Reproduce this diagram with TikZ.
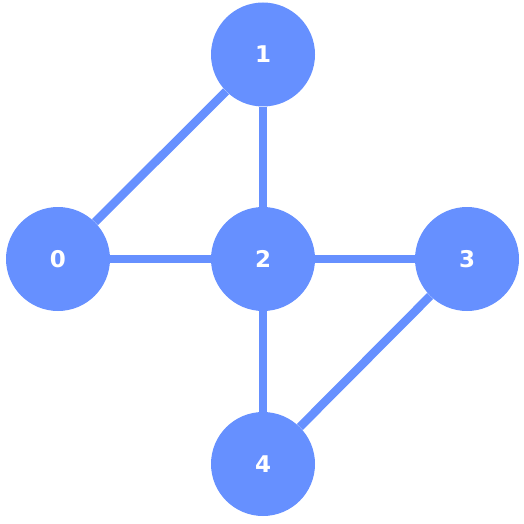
\documentclass[tikz,border=0pt]{standalone}
\usepackage{fontspec}
\setmainfont{DejaVu Sans}
\definecolor{nodeblue}{HTML}{6690FF}
\begin{document}
\begin{tikzpicture}[x=1pt,y=-1pt,
  vertex/.style={circle,fill=nodeblue,draw=none,minimum size=104pt,inner sep=0pt,text=white,font=\fontsize{23}{23}\selectfont\bfseries},
  edge/.style={draw=nodeblue,line width=8.5pt}]
\useasboundingbox (0,0) rectangle (524,524);
\node[vertex] (n1) at (263,54.5) {1};
\node[vertex] (n0) at (58,259) {0};
\node[vertex] (n2) at (263,259) {2};
\node[vertex] (n3) at (467,259) {3};
\node[vertex] (n4) at (263,464) {4};
\path[edge] (n0) -- (n1);
\path[edge] (n0) -- (n2);
\path[edge] (n1) -- (n2);
\path[edge] (n2) -- (n3);
\path[edge] (n2) -- (n4);
\path[edge] (n3) -- (n4);
\end{tikzpicture}
\end{document}
